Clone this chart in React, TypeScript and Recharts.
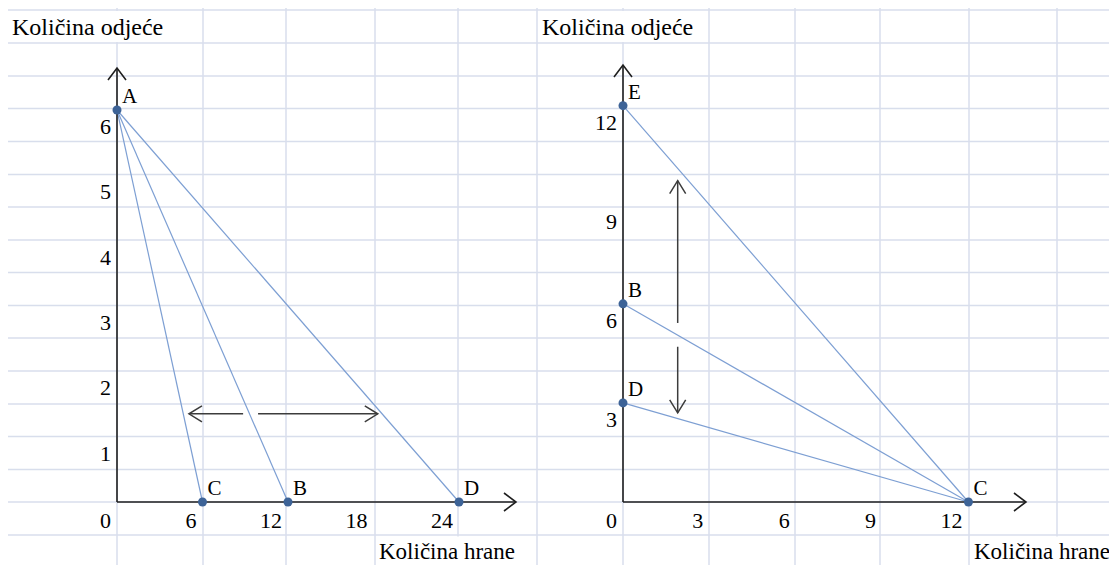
import React from "react";
import {
  ComposedChart,
  Line,
  Scatter,
  XAxis,
  YAxis,
  CartesianGrid,
  ReferenceLine,
} from "recharts";

// ---- left panel data ----
const leftPoints = [
  { name: "A", x: 0, y: 6 },
  { name: "C", x: 6, y: 0 },
  { name: "B", x: 12, y: 0 },
  { name: "D", x: 24, y: 0 },
];
const leftSegments = [
  ["A", "C"],
  ["A", "B"],
  ["A", "D"],
];
const leftXTicks = [0, 6, 12, 18, 24];
const leftYTicks = [1, 2, 3, 4, 5, 6];
// double arrow, drawn in two pieces (it breaks where AB crosses it)
const leftArrowParts = [
  [{ x: 8.85, y: 1.35 }, { x: 5.05, y: 1.35 }],
  [{ x: 9.9, y: 1.35 }, { x: 18.3, y: 1.35 }],
];

// ---- right panel data ----
const rightPoints = [
  { name: "E", x: 0, y: 12 },
  { name: "B", x: 0, y: 6 },
  { name: "D", x: 0, y: 3 },
  { name: "C", x: 12, y: 0 },
];
const rightSegments = [
  ["E", "C"],
  ["B", "C"],
  ["D", "C"],
];
const rightXTicks = [0, 3, 6, 9, 12];
const rightYTicks = [3, 6, 9, 12];
const rightArrowParts = [
  [{ x: 1.9, y: 5.42 }, { x: 1.9, y: 9.73 }],
  [{ x: 1.9, y: 4.7 }, { x: 1.9, y: 2.7 }],
];

const yTitle = "Količina odjeće";
const xTitle = "Količina hrane";

// ---- look ----
const FONT = '"Liberation Serif", "Times New Roman", serif';
const GRID = "#d8deec";
const LINE = "#7d9fd3";
const DOT = "#3d6397";
const AXIS = "#1e1e1e";
const ARROW = "#3c3c3c";
const TEXT = "#000";

// spreadsheet cell borders (svg coords of the background layer)
const gridRows = [2, 35, 68, 100.5, 133.5, 166.5, 199, 232, 264.5, 297.5, 330, 363, 396, 428.5, 461.5, 494, 527];
const gridCols = [109, 195, 278, 367, 450, 529, 615, 701, 787, 872, 961, 1049];

function Arrow(props: any) {
  const { x1, y1, x2, y2, stroke, strokeWidth, len = 12, half = 8 } = props;
  const dx = x2 - x1;
  const dy = y2 - y1;
  const d = Math.hypot(dx, dy) || 1;
  const ux = dx / d;
  const uy = dy / d;
  const bx = x2 - ux * len;
  const by = y2 - uy * len;
  const nx = -uy * half;
  const ny = ux * half;
  return (
    <g>
      <line x1={x1} y1={y1} x2={x2} y2={y2} stroke={stroke} strokeWidth={strokeWidth} />
      <polyline
        points={`${bx + nx},${by + ny} ${x2},${y2} ${bx - nx},${by - ny}`}
        fill="none"
        stroke={stroke}
        strokeWidth={strokeWidth}
      />
    </g>
  );
}

const PointShape = (p: any) => {
  const name = p.payload?.name ?? p.name;
  return (
    <g>
      <circle cx={p.cx} cy={p.cy} r={4.5} fill={DOT} />
      <text x={p.cx + 5} y={p.cy - 7} fontFamily={FONT} fontSize={21} fill={TEXT}>
        {name}
      </text>
    </g>
  );
};

const XTick = (p: any) => (
  <text x={p.x - 6} y={p.y + 20} textAnchor="end" fontFamily={FONT} fontSize={22} fill={TEXT}>
    {p.payload.value}
  </text>
);

const YTick = (p: any) => (
  <text x={p.x} y={p.y + 24} textAnchor="end" fontFamily={FONT} fontSize={22} fill={TEXT}>
    {p.payload.value}
  </text>
);

interface PanelProps {
  points: { name: string; x: number; y: number }[];
  segments: string[][];
  xTicks: number[];
  yTicks: number[];
  arrows: { x: number; y: number }[][];
  xMax: number;
  yMax: number;
  left: number;
  width: number;
  margin: { top: number; right: number; bottom: number; left: number };
  titleX: number;
  titleMask: [number, number];
  labelX: number;
  labelMask: [number, number];
}

function Panel({
  points,
  segments,
  xTicks,
  yTicks,
  arrows,
  xMax,
  yMax,
  left,
  width,
  margin,
  titleX,
  titleMask,
  labelX,
  labelMask,
}: PanelProps) {
  const find = (n: string) => points.find((p) => p.name === n);
  return (
    <div style={{ position: "absolute", left, top: 0 }}>
      <ComposedChart width={width} height={557} margin={margin}>
        {/* text overflowing a cell hides the cell borders under it */}
        <rect x={titleMask[0]} y={3} width={titleMask[1] - titleMask[0]} height={31} fill="#fff" />
        <rect x={labelMask[0]} y={528.5} width={labelMask[1] - labelMask[0]} height={29} fill="#fff" />
        <text x={titleX} y={27} fontFamily={FONT} fontSize={24} fill={TEXT}>
          {yTitle}
        </text>
        <text x={labelX} y={551} fontFamily={FONT} fontSize={23} fill={TEXT}>
          {xTitle}
        </text>
        <XAxis
          type="number"
          dataKey="x"
          domain={[0, xMax]}
          ticks={xTicks}
          interval={0}
          axisLine={false}
          tickLine={false}
          tickMargin={0}
          height={30}
          tick={XTick}
        />
        <YAxis
          type="number"
          dataKey="y"
          domain={[0, yMax]}
          ticks={yTicks}
          interval={0}
          axisLine={false}
          tickLine={false}
          tickMargin={0}
          width={30}
          tick={YTick}
        />
        {segments.map(([a, b]) => (
          <Line
            key={a + b}
            data={[find(a), find(b)]}
            dataKey="y"
            type="linear"
            stroke={LINE}
            strokeWidth={1.2}
            dot={false}
            activeDot={false}
            isAnimationActive={false}
          />
        ))}
        <ReferenceLine
          segment={[{ x: 0, y: 0 }, { x: xMax, y: 0 }]}
          ifOverflow="visible"
          stroke={AXIS}
          strokeWidth={1.6}
          shape={(p: any) => <Arrow {...p} len={12} half={9} />}
        />
        <ReferenceLine
          segment={[{ x: 0, y: 0 }, { x: 0, y: yMax }]}
          ifOverflow="visible"
          stroke={AXIS}
          strokeWidth={1.6}
          shape={(p: any) => <Arrow {...p} len={12} half={9} />}
        />
        {arrows.map((seg, i) => (
          <ReferenceLine
            key={i}
            segment={seg}
            ifOverflow="visible"
            stroke={ARROW}
            strokeWidth={1.5}
            shape={(p: any) => <Arrow {...p} len={13} half={8} />}
          />
        ))}
        <Scatter data={points} shape={PointShape} isAnimationActive={false} />
      </ComposedChart>
    </div>
  );
}

export default function App() {
  return (
    <div style={{ position: "relative", width: 1109, height: 557, background: "#fff" }}>
      <div style={{ position: "absolute", left: 0, top: 0 }}>
        <ComposedChart width={1109} height={557} margin={{ top: 0, right: 0, bottom: 0, left: 0 }}>
          <CartesianGrid
            stroke={GRID}
            strokeWidth={1.5}
            horizontalPoints={gridRows}
            verticalPoints={gridCols}
          />
        </ComposedChart>
      </div>
      <Panel
        points={leftPoints}
        segments={leftSegments}
        xTicks={leftXTicks}
        yTicks={leftYTicks}
        arrows={leftArrowParts}
        xMax={28}
        yMax={6.643}
        left={0}
        width={540}
        margin={{ top: 60, right: 32, bottom: 33, left: 79 }}
        titleX={4}
        titleMask={[0, 194]}
        labelX={371}
        labelMask={[368, 528]}
      />
      <Panel
        points={rightPoints}
        segments={rightSegments}
        xTicks={rightXTicks}
        yTicks={rightYTicks}
        arrows={rightArrowParts}
        xMax={14}
        yMax={13.23}
        left={520}
        width={589}
        margin={{ top: 57, right: 91, bottom: 33, left: 65 }}
        titleX={14}
        titleMask={[10, 180]}
        labelX={446}
        labelMask={[442, 589]}
      />
    </div>
  );
}
